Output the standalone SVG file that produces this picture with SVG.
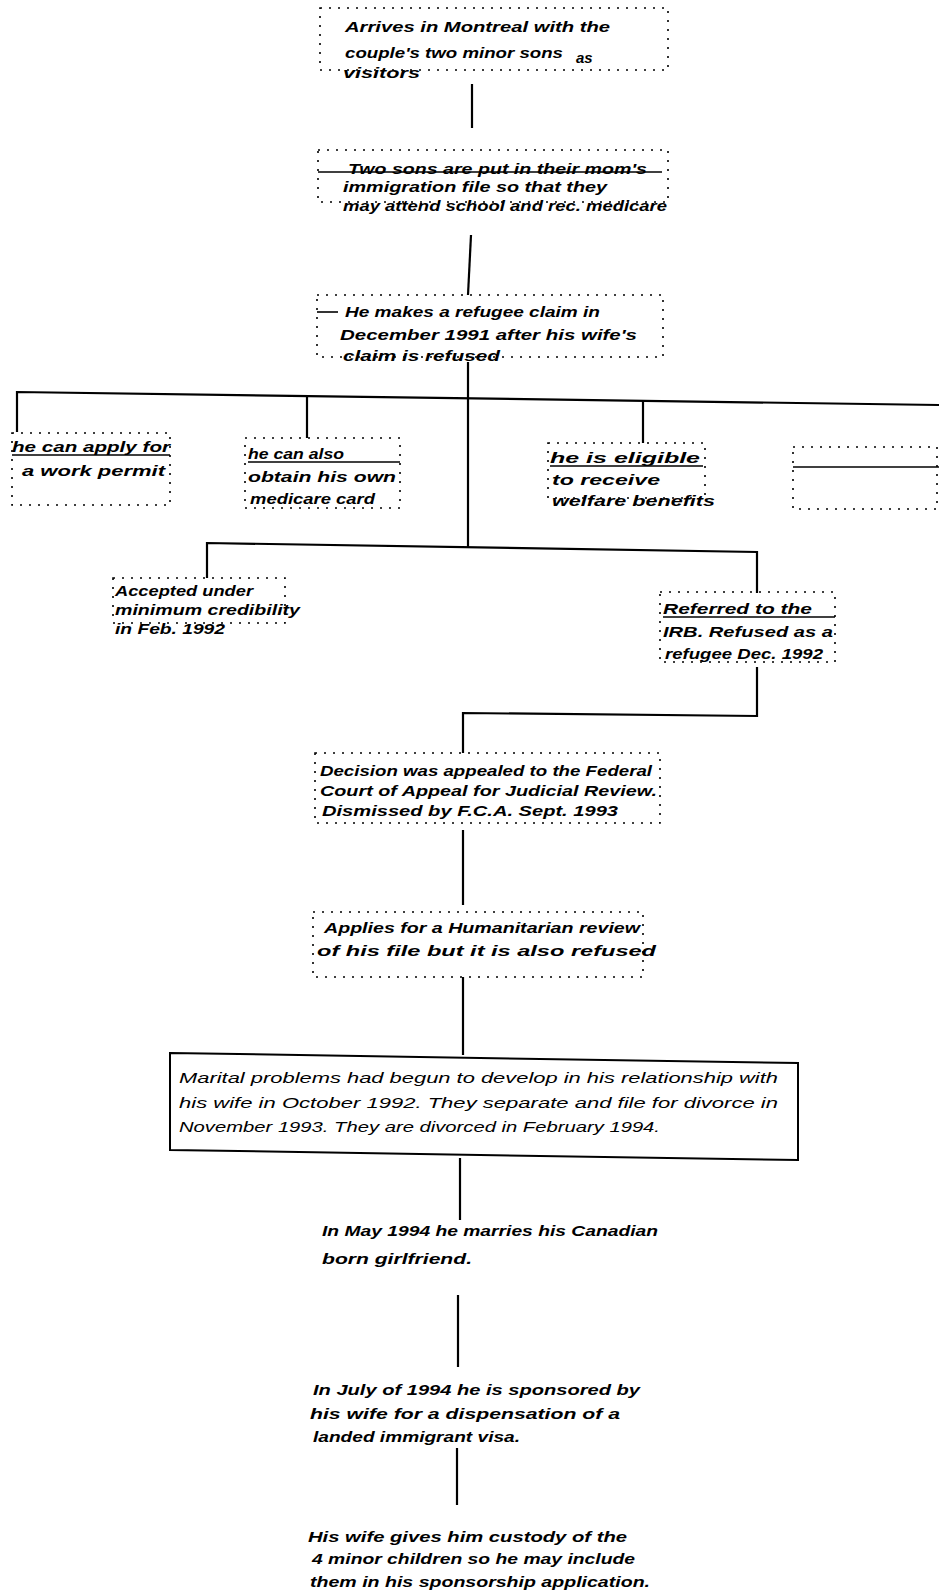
<svg xmlns="http://www.w3.org/2000/svg" width="939" height="1593" viewBox="0 0 939 1593">
  <style>
    text { font-family: "Liberation Sans", "DejaVu Sans", sans-serif; font-style: italic; fill: #000; }
    .b { font-size: 15px; font-weight: bold; }
    .n { font-size: 14px; font-weight: normal; }
    .m { font-size: 15px; font-weight: bold; }
    .dot { fill: none; stroke: #000; stroke-width: 1.6; stroke-dasharray: 2 7; }
    .rule { fill: none; stroke: #000; stroke-width: 1.6; }
    .frame { fill: none; stroke: #000; stroke-width: 2; }
    .wire { fill: none; stroke: #000; stroke-width: 2.2; }
  </style>
  <rect width="939" height="1593" fill="#fff"/>

  <!-- connectors -->
  <g id="connectors">
    <path class="wire" d="M472,84 L472,128"/>
    <path class="wire" d="M471,235 L468,295"/>
    <path class="wire" d="M468,362 L468,547"/>
    <path class="wire" d="M17,432 L17,392 L939,405"/>
    <path class="wire" d="M307,396 L307,438"/>
    <path class="wire" d="M643,400 L643,443"/>
    <path class="wire" d="M207,578 L207,543 L757,552 L757,593"/>
    <path class="wire" d="M757,667 L757,716 L463,713 L463,753"/>
    <path class="wire" d="M463,830 L463,905"/>
    <path class="wire" d="M463,977 L463,1055"/>
    <path class="wire" d="M460,1158 L460,1220"/>
    <path class="wire" d="M458,1295 L458,1367"/>
    <path class="wire" d="M457,1448 L457,1505"/>
  </g>

  <!-- arrival -->
  <g id="arrives">
    <rect class="dot" x="320" y="8" width="348" height="62"/>
    <text class="b" x="345" y="32" textLength="265" lengthAdjust="spacingAndGlyphs">Arrives in Montreal with the</text>
    <text class="b" x="345" y="58" textLength="218" lengthAdjust="spacingAndGlyphs">couple's two minor sons</text>
    <text class="b" x="576" y="63">as</text>
    <text class="b" x="343" y="78" textLength="77" lengthAdjust="spacingAndGlyphs">visitors</text>
  </g>

  <!-- sons added to the file -->
  <g id="sons">
    <rect class="dot" x="318" y="150" width="350" height="52"/>
    <path class="rule" d="M318,172 L662,172"/>
    <text class="b" x="348" y="174" textLength="299" lengthAdjust="spacingAndGlyphs">Two sons are put in their mom's</text>
    <text class="b" x="343" y="192" textLength="264" lengthAdjust="spacingAndGlyphs">immigration file so that they</text>
    <text class="b" x="343" y="211" textLength="324" lengthAdjust="spacingAndGlyphs">may attend school and rec. medicare</text>
  </g>

  <!-- refugee claim -->
  <g id="claim">
    <rect class="dot" x="317" y="295" width="346" height="62"/>
    <path class="rule" d="M317,312 L338,312"/>
    <text class="b" x="345" y="317" textLength="255" lengthAdjust="spacingAndGlyphs">He makes a refugee claim in</text>
    <text class="b" x="340" y="340" textLength="297" lengthAdjust="spacingAndGlyphs">December 1991 after his wife's</text>
    <text class="b" x="343" y="361" textLength="157" lengthAdjust="spacingAndGlyphs">claim is refused</text>
  </g>

  <!-- work permit -->
  <g id="work-permit">
    <rect class="dot" x="12" y="433" width="158" height="72"/>
    <path class="rule" d="M12,455 L170,455"/>
    <text class="b" x="12" y="452" textLength="158" lengthAdjust="spacingAndGlyphs">he can apply for</text>
    <text class="b" x="22" y="476" textLength="143" lengthAdjust="spacingAndGlyphs">a work permit</text>
  </g>

  <!-- medicare card -->
  <g id="medicare">
    <rect class="dot" x="245" y="438" width="155" height="70"/>
    <path class="rule" d="M248,462 L400,462"/>
    <text class="b" x="248" y="459" textLength="96" lengthAdjust="spacingAndGlyphs">he can also</text>
    <text class="b" x="248" y="482" textLength="148" lengthAdjust="spacingAndGlyphs">obtain his own</text>
    <text class="b" x="250" y="504" textLength="125" lengthAdjust="spacingAndGlyphs">medicare card</text>
  </g>

  <!-- welfare -->
  <g id="welfare">
    <rect class="dot" x="548" y="443" width="157" height="55"/>
    <path class="rule" d="M550,466 L703,466"/>
    <text class="b" x="550" y="463" textLength="150" lengthAdjust="spacingAndGlyphs">he is eligible</text>
    <text class="b" x="552" y="485" textLength="108" lengthAdjust="spacingAndGlyphs">to receive</text>
    <text class="b" x="552" y="506" textLength="163" lengthAdjust="spacingAndGlyphs">welfare benefits</text>
  </g>

  <!-- blank fourth box -->
  <g id="blank">
    <rect class="dot" x="793" y="447" width="144" height="62"/>
    <path class="rule" d="M793,467 L939,467"/>
  </g>

  <!-- accepted -->
  <g id="accepted">
    <rect class="dot" x="113" y="578" width="172" height="45"/>
    <text class="b" x="115" y="596" textLength="138" lengthAdjust="spacingAndGlyphs">Accepted under</text>
    <text class="b" x="115" y="615" textLength="185" lengthAdjust="spacingAndGlyphs">minimum credibility</text>
    <text class="b" x="115" y="634" textLength="110" lengthAdjust="spacingAndGlyphs">in Feb. 1992</text>
  </g>

  <!-- referred -->
  <g id="referred">
    <rect class="dot" x="660" y="592" width="175" height="70"/>
    <path class="rule" d="M663,617 L835,617"/>
    <text class="b" x="663" y="614" textLength="149" lengthAdjust="spacingAndGlyphs">Referred to the</text>
    <text class="b" x="663" y="637" textLength="170" lengthAdjust="spacingAndGlyphs">IRB. Refused as a</text>
    <text class="b" x="665" y="659" textLength="158" lengthAdjust="spacingAndGlyphs">refugee Dec. 1992</text>
  </g>

  <!-- appeal -->
  <g id="appeal">
    <rect class="dot" x="315" y="753" width="345" height="70"/>
    <text class="b" x="320" y="776" textLength="332" lengthAdjust="spacingAndGlyphs">Decision was appealed to the Federal</text>
    <text class="b" x="320" y="796" textLength="337" lengthAdjust="spacingAndGlyphs">Court of Appeal for Judicial Review.</text>
    <text class="b" x="322" y="816" textLength="296" lengthAdjust="spacingAndGlyphs">Dismissed by F.C.A. Sept. 1993</text>
  </g>

  <!-- humanitarian review -->
  <g id="humanitarian">
    <rect class="dot" x="313" y="912" width="330" height="65"/>
    <text class="b" x="324" y="933" textLength="316" lengthAdjust="spacingAndGlyphs">Applies for a Humanitarian review</text>
    <text class="b" x="317" y="956" textLength="339" lengthAdjust="spacingAndGlyphs">of his file but it is also refused</text>
  </g>

  <!-- divorce -->
  <g id="divorce">
    <path class="frame" d="M170,1053 L798,1063 L798,1160 L170,1150 Z"/>
    <text class="n" x="179" y="1083" textLength="599" lengthAdjust="spacingAndGlyphs">Marital problems had begun to develop in his relationship with</text>
    <text class="n" x="179" y="1108" textLength="599" lengthAdjust="spacingAndGlyphs">his wife in October 1992. They separate and file for divorce in</text>
    <text class="n" x="179" y="1132" textLength="481" lengthAdjust="spacingAndGlyphs">November 1993. They are divorced in February 1994.</text>
  </g>

  <!-- remarriage -->
  <g id="marriage">
    <text class="m" x="322" y="1236" textLength="336" lengthAdjust="spacingAndGlyphs">In May 1994 he marries his Canadian</text>
    <text class="m" x="322" y="1264" textLength="150" lengthAdjust="spacingAndGlyphs">born girlfriend.</text>
  </g>

  <!-- sponsorship -->
  <g id="sponsorship">
    <text class="m" x="313" y="1395" textLength="327" lengthAdjust="spacingAndGlyphs">In July of 1994 he is sponsored by</text>
    <text class="m" x="310" y="1419" textLength="310" lengthAdjust="spacingAndGlyphs">his wife for a dispensation of a</text>
    <text class="m" x="313" y="1442" textLength="207" lengthAdjust="spacingAndGlyphs">landed immigrant visa.</text>
  </g>

  <!-- custody -->
  <g id="custody">
    <text class="m" x="308" y="1542" textLength="319" lengthAdjust="spacingAndGlyphs">His wife gives him custody of the</text>
    <text class="m" x="312" y="1564" textLength="323" lengthAdjust="spacingAndGlyphs">4 minor children so he may include</text>
    <text class="m" x="310" y="1587" textLength="340" lengthAdjust="spacingAndGlyphs">them in his sponsorship application.</text>
  </g>
</svg>
